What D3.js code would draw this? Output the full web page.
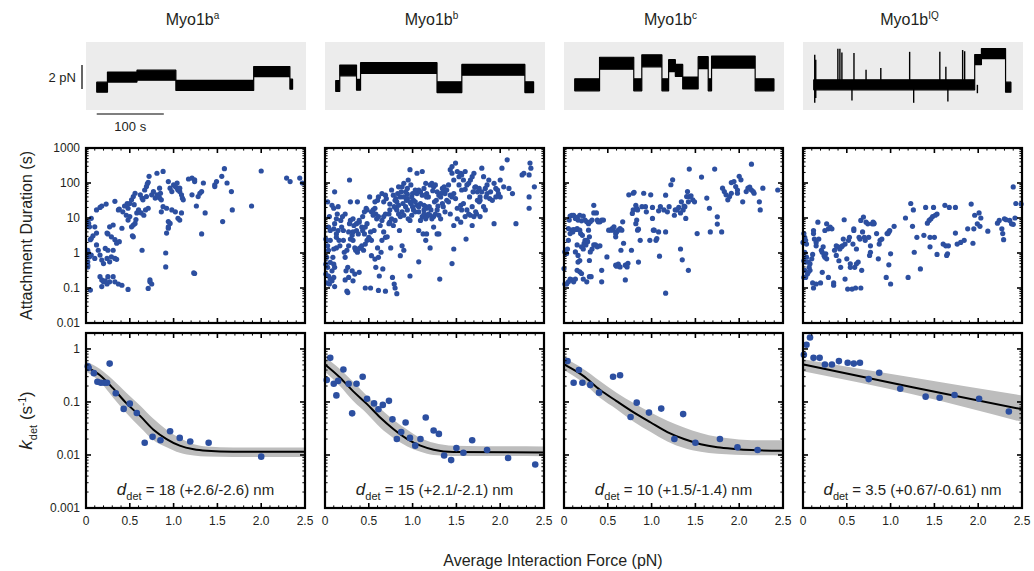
<!DOCTYPE html>
<html><head><meta charset="utf-8">
<script src="https://cdn.jsdelivr.net/npm/d3@7"></script>
<style>body{margin:0;background:#fff}svg{display:block;font-family:"Liberation Sans",Arial,Helvetica,sans-serif}</style>
</head><body><svg id="c" width="1034" height="571"></svg>
<script>
// ---------------- DATA ----------------
const constructs = ["a", "b", "c", "IQ"];
const xTickValues = [0, 0.5, 1, 1.5, 2, 2.5];
const durTicks = [0.01, 0.1, 1, 10, 100, 1000];
const durTickLabels = ["0.01", "0.1", "1", "10", "100", "1000"];
const kTicks = [0.001, 0.01, 0.1, 1];
const kTickLabels = ["0.001", "0.01", "0.1", "1"];
const ddetLabels = ["18 (+2.6/-2.6) nm", "15 (+2.1/-2.1) nm", "10 (+1.5/-1.4) nm", "3.5 (+0.67/-0.61) nm"];

// example traces: [start s, end s, force pN]
const traceA = [[0,16,-0.1],[16,60,0.75],[60,118,0.9],[118,234,0.05],[234,288,1.2],[288,292,0.15]];
const traceB = [[0,6,0],[6,31,1.3],[31,37,0.1],[37,151,1.5],[151,188,-0.1],[188,282,1.35],[282,295,-0.1]];
const traceC = [[0,37,0.1],[37,88,1.9],[88,100,0.1],[100,130,2.1],[130,140,0.1],[140,150,1.7],[150,161,1.3],[161,184,0.25],[184,199,1.95],[199,204,0.1],[204,269,2.0],[269,297,0.1]];
const traceIQ = [[0,240,0.1],[240,250,2.2],[250,286,2.7],[286,294,-0.1]];
// spikes in IQ trace: [time s, max pN, min pN]
const spikesIQ = [[1.5,2.6,-1.4],[3,2.2,-1.0],[36,3.1,0],[39,3.1,0],[42,2.8,0],[57,0.1,-1.2],[60,2.75,0],[78,1.35,0],[100,1.5,0],[143,2.85,0],[149,0.1,-1.4],[188,2.85,0],[197,1.6,0],[200,0.1,-1.3],[222,3.0,0],[225,2.9,0],[244,0.1,-0.6]];
const traceNoise = [0.42, 0.45, 0.5, 0.42];

// attachment durations: [force pN, duration s]
const durA = [
[0.02,7.9],[0.03,7.0],[0.04,5.6],[0.06,9.8],[0.12,17],[0.16,20],[0.18,22],[0.23,25],
[0.05,2.4],[0.06,2.6],[0.08,3.1],[0.10,5.6],[0.12,3.7],[0.02,1.2],[0.03,0.98],[0.04,0.78],
[0.02,0.56],[0.02,0.45],[0.02,0.40],[0.06,0.87],[0.10,0.70],[0.12,1.7],[0.14,1.2],[0.16,0.87],
[0.18,0.63],[0.20,0.50],[0.22,1.35],[0.24,0.70],[0.25,1.2],[0.27,0.56],[0.29,0.78],[0.31,1.2],
[0.33,0.70],[0.35,0.66],[0.16,0.21],[0.18,0.17],[0.20,0.15],[0.22,0.16],[0.24,0.13],[0.25,0.21],
[0.27,0.15],[0.31,0.21],[0.33,0.15],[0.37,0.13],[0.41,0.12],[0.48,0.091],[0.05,0.087],[0.18,0.11],
[0.24,3.7],[0.25,3.5],[0.29,2.9],[0.33,2.4],[0.35,1.9],[0.38,2.1],[0.27,5.6],[0.31,6.3],
[0.33,30],[0.37,17],[0.38,18],[0.41,5.1],[0.46,12],[0.48,19],[0.50,26],[0.52,33],[0.54,41],[0.56,51],
[0.48,8.7],[0.50,11],[0.52,5.6],[0.54,6.3],[0.56,7.0],[0.58,14],[0.60,17],[0.54,2.9],[0.53,3.1],
[0.62,46],[0.64,37],[0.65,33],[0.67,63],[0.69,79],[0.70,95],[0.71,105],[0.72,155],[0.69,41],
[0.64,1.2],[0.68,17],[0.71,19],[0.75,46],[0.77,57],[0.79,37],[0.81,46],[0.83,41],[0.84,37],[0.86,33],
[0.84,71],[0.85,51],[0.81,190],[0.88,214],[0.71,0.097],[0.73,0.15],[0.75,0.13],[0.73,0.17],
[0.86,15],[0.88,21],[0.92,3.7],[0.94,5.1],[0.91,1.0],[0.91,0.40],[0.94,110],[0.96,71],[0.98,57],
[1.0,89],[1.02,79],[1.04,71],[1.05,63],[1.07,57],[1.09,46],[1.10,37],[1.11,33],[1.04,100],[1.07,71],
[0.92,19],[0.98,17],[1.02,15],[0.94,7.9],[0.96,7.0],[0.94,5.6],[1.05,9.8],[1.07,8.7],[1.09,14],
[1.17,130],[1.21,138],[1.24,123],[1.24,110],[1.21,46],[1.23,0.27],[1.24,0.26],[1.26,22],[1.32,3.5],
[1.34,100],[1.32,57],[1.30,51],[1.28,41],[1.36,14],[1.47,89],[1.49,110],[1.55,155],[1.58,257],
[1.61,100],[1.66,57],[1.67,17],[1.47,79],[1.56,7.9],[1.89,22],[2.0,220],[2.29,138],[2.33,110],
[2.44,138],[2.47,100],[0.42,15],[0.44,22],[0.47,26],[0.55,24],[0.57,9],[0.63,14],[0.66,12]
];
const durB = [
[0.02,2.3],[0.01,2.5],[0.03,1.6],[0.04,1.2],[0.02,0.75],[0.01,0.48],[0.03,0.39],[0.01,0.25],[0.04,0.22],[0.02,0.14],
[0.05,0.13],[0.06,0.18],[0.08,0.16],[0.10,0.20],[0.11,0.11],[0.08,0.31],[0.10,0.48],[0.11,0.39],[0.06,0.54],[0.09,0.75],
[0.10,1.3],[0.13,1.4],[0.06,4.4],[0.04,5.5],[0.10,4.9],[0.13,3.5],[0.15,4.4],[0.11,6.9],[0.03,29],[0.08,23],
[0.10,19],[0.11,56],[0.15,21],[0.14,13],[0.05,11],[0.13,9.5],[0.16,2.3],[0.17,1.6],[0.06,2.3],[0.13,2.8],
[0.23,13],[0.21,2.3],[0.22,1.05],[0.23,0.75],[0.25,1.2],[0.27,1.6],[0.29,2.5],[0.31,3.2],[0.32,2.3],[0.34,1.4],
[0.35,1.2],[0.37,1.05],[0.38,1.3],[0.40,1.4],[0.28,6.9],[0.29,8.5],[0.32,9.5],[0.33,6.1],[0.36,6.9],[0.39,7.6],
[0.29,29],[0.28,122],[0.37,29],[0.39,8.5],[0.24,0.31],[0.26,0.39],[0.27,0.20],[0.23,0.17],[0.25,0.081],[0.26,0.074],
[0.21,4.4],[0.19,5.5],[0.31,0.31],[0.32,0.16],[0.34,0.25],[0.39,0.28],[0.38,3.5],[0.36,4.4],[0.32,4.0],[0.27,4.0],
[0.18,8.5],[0.20,11],
[0.42,5.5],[0.43,4.4],[0.45,3.5],[0.46,5.5],[0.48,6.9],[0.50,2.8],[0.52,4.0],[0.47,19],[0.48,17],[0.51,40],
[0.53,15],[0.55,17],[0.57,19],[0.58,13],[0.60,32],[0.61,40],[0.57,29],[0.55,12],[0.59,9.5],[0.61,11],
[0.63,6.1],[0.65,8.5],[0.67,11],[0.69,13],[0.65,50],[0.67,29],[0.69,45],[0.70,36],[0.42,1.6],[0.44,1.2],
[0.46,1.8],[0.48,2.3],[0.53,0.84],[0.57,0.67],[0.61,0.75],[0.52,0.10],[0.46,0.10],[0.58,0.39],[0.62,0.22],[0.66,0.35],
[0.61,0.085],[0.69,0.081],[0.65,2.3],[0.67,4.0],[0.69,2.8],[0.71,2.9],[0.56,4.4],[0.53,2.3],[0.60,1.4],[0.64,1.05],
[0.51,2.5],[0.43,11],[0.45,15],
[0.73,13],[0.74,17],[0.76,63],[0.78,45],[0.80,32],[0.82,29],[0.84,23],[0.86,40],[0.88,78],[0.90,98],
[0.92,56],[0.94,70],[0.95,122],[0.97,240],[0.98,88],[0.99,40],[1.0,50],[1.01,32],[0.74,7.6],[0.76,9.5],
[0.78,6.1],[0.80,8.5],[0.82,17],[0.84,13],[0.86,11],[0.88,15],[0.90,12],[0.92,21],[0.94,17],[0.95,9.5],
[0.97,8.5],[0.99,12],[1.01,17],[0.73,6.9],[0.75,1.4],[0.77,0.20],[0.79,0.13],[0.80,0.10],[0.82,0.069],[0.86,0.84],
[0.88,1.6],[0.90,1.2],[0.85,4.4],[0.81,19],[0.83,50],[0.93,32],[0.94,36],[0.97,29],[0.97,0.22],[0.98,26],
[0.89,26],[0.90,40],[0.87,56],[0.79,21],[0.74,25],[0.81,36],[0.84,78],[0.94,48],[1.0,21],
[1.03,29],[1.05,23],[1.07,21],[1.09,26],[1.11,45],[1.13,23],[1.15,21],[1.16,19],[1.05,190],[1.07,63],
[1.09,56],[1.11,213],[1.13,70],[1.15,98],[1.16,50],[1.18,40],[1.20,88],[1.22,98],[1.24,78],[1.26,88],
[1.28,56],[1.30,45],[1.32,50],[1.34,70],[1.35,56],[1.37,50],[1.05,50],[1.03,63],[1.07,15],[1.11,11],
[1.13,13],[1.15,9.5],[1.16,11],[1.18,13],[1.20,12],[1.22,9.5],[1.24,11],[1.26,13],[1.28,17],[1.30,12],
[1.32,9.5],[1.34,26],[1.35,21],[1.37,15],[1.07,4.4],[1.12,3.5],[1.15,2.3],[1.16,3.5],[1.20,1.4],[1.24,5.5],
[1.28,3.5],[1.30,3.5],[1.07,0.56],[1.31,0.18],[1.03,15],[1.09,8.5],[1.13,17],[1.25,29],[1.19,21],[1.23,60],
[1.27,32],[1.32,40],[1.36,78],[1.16,40],[1.21,17],[1.29,22],
[1.39,32],[1.41,88],[1.43,240],[1.45,190],[1.47,122],[1.49,370],[1.51,213],[1.53,152],[1.55,190],[1.56,170],
[1.58,122],[1.60,213],[1.62,88],[1.64,98],[1.66,122],[1.68,152],[1.70,190],[1.72,78],[1.74,56],[1.76,70],
[1.77,40],[1.41,29],[1.43,45],[1.45,40],[1.47,50],[1.49,36],[1.51,19],[1.55,23],[1.56,17],[1.58,26],
[1.60,11],[1.62,17],[1.64,13],[1.66,12],[1.68,21],[1.70,11],[1.72,15],[1.74,32],[1.76,29],[1.43,13],
[1.47,6.1],[1.47,1.3],[1.45,0.50],[1.51,9.5],[1.55,7.6],[1.61,2.5],[1.68,6.1],[1.73,13],[1.77,32],[1.79,56],
[1.39,63],[1.45,295],[1.53,88],[1.56,63],[1.60,66],[1.65,40],[1.69,56],[1.71,75],
[1.79,265],[1.81,152],[1.83,70],[1.85,88],[1.87,122],[1.89,56],[1.91,32],[1.93,98],[1.95,70],[1.97,63],
[1.98,50],[2.0,122],[2.02,265],[2.04,78],[2.08,460],[2.10,70],[2.14,50],[2.18,6.9],[2.25,170],[2.27,190],
[2.33,170],[2.34,370],[2.35,265],[2.39,78],[2.33,40],[2.33,19],[1.93,6.9],[1.95,40],[1.83,17],[1.84,40],
[2.0,40],[1.88,36],[1.85,50],[1.77,11],[1.81,21]
];
const durC = [
[0.01,1.07],[0.0,0.36],[0.02,1.2],[0.03,0.96],[0.04,1.3],[0.01,0.13],[0.03,0.13],[0.05,0.15],[0.07,0.18],[0.09,0.17],
[0.11,0.15],[0.13,0.18],[0.05,5.0],[0.06,8.7],[0.07,11.4],[0.09,12],[0.11,12],[0.13,9.7],[0.15,10.4],[0.16,8.7],
[0.18,12],[0.20,8.3],[0.22,11.4],[0.24,8.7],[0.26,7.8],[0.28,6.9],[0.30,7.8],[0.32,8.7],[0.34,23],[0.34,14],
[0.37,14],[0.38,8.7],[0.39,7.8],[0.41,7.8],[0.43,8.7],[0.45,8.7],[0.05,2.3],[0.07,3.6],[0.09,4.5],[0.10,4.0],
[0.11,4.7],[0.14,4.7],[0.15,5.0],[0.18,4.5],[0.19,3.6],[0.21,3.2],[0.24,2.3],[0.26,2.3],[0.28,4.5],[0.29,2.9],
[0.13,1.07],[0.15,1.7],[0.16,0.85],[0.18,0.61],[0.20,1.5],[0.22,1.3],[0.23,1.9],[0.25,1.7],[0.27,2.1],[0.29,0.61],
[0.30,1.07],[0.32,1.3],[0.34,1.7],[0.36,1.7],[0.38,1.5],[0.16,0.55],[0.15,0.32],[0.18,0.29],[0.20,0.26],[0.26,0.15],
[0.22,0.18],[0.29,0.21],[0.31,0.21],[0.41,1.6],[0.43,0.32],[0.43,0.15],[0.49,0.77],[0.51,4.5],[0.53,4.5],[0.55,5.0],
[0.56,4.5],[0.57,5.6],[0.59,3.6],[0.59,2.9],[0.60,4.0],[0.62,4.5],[0.64,5.0],[0.66,4.5],[0.67,7.8],[0.68,1.9],
[0.70,0.45],[0.71,0.45],[0.73,0.51],[0.72,0.40],[0.70,0.17],[0.59,0.45],[0.60,0.42],[0.62,0.48],[0.64,0.40],[0.65,1.2],
[0.78,13.5],[0.77,1.2],[0.79,17],[0.82,6.9],[0.83,8.7],[0.84,4.5],[0.85,4.8],[0.87,2.3],[0.74,46],[0.79,51],
[0.80,54],[0.82,23],[0.83,19],[0.83,18],[0.84,17],[0.91,51],[0.93,21],[0.94,15],[0.85,0.55],[0.89,21],
[0.99,46],[1.01,20],[1.01,9.7],[0.98,2.3],[1.02,4.5],[1.05,2.3],[1.06,2.6],[1.08,4.0],[1.09,0.81],[1.03,4.5],
[1.08,16],[1.10,21],[1.14,17],[1.16,4.0],[1.16,45],[1.18,15],[1.20,21],[1.16,0.071],[1.22,89],[1.24,123],
[1.26,12],[1.27,17],[1.29,17],[1.31,20],[1.33,14],[1.33,1.3],[1.34,29],[1.35,0.64],[1.36,17],[1.37,22],
[1.38,21],[1.40,41],[1.39,9.7],[1.41,57],[1.42,29],[1.43,41],[1.45,43],[1.47,33],[1.49,29],[1.52,3.6],
[1.57,148],[1.43,250],[1.42,0.32],[1.63,37],[1.66,19],[1.67,4.0],[1.72,250],[1.75,10.8],[1.75,6.7],[1.80,4.0],
[1.81,71],[1.83,57],[1.85,46],[1.87,33],[1.89,41],[1.91,51],[1.91,103],[1.94,110],[1.96,79],[1.98,63],
[1.98,51],[2.0,155],[2.02,123],[2.04,29],[2.08,57],[2.10,71],[2.12,76],[2.14,63],[2.16,57],[2.17,51],
[2.14,345],[2.23,29],[2.24,17],[2.27,71],[2.44,63]
];
const durIQ = [
[0.01,3.6],[0.02,2.8],[0.0,2.0],[0.03,2.3],[0.04,1.8],[0.02,1.05],[0.01,0.60],[0.03,0.55],[0.04,0.76],[0.06,0.55],
[0.02,0.32],[0.01,0.20],[0.03,0.20],[0.05,0.25],[0.06,0.28],[0.07,0.39],[0.08,0.32],[0.08,0.49],[0.10,0.68],[0.11,0.91],
[0.12,4.4],[0.12,3.6],[0.13,2.5],[0.15,1.6],[0.15,2.0],[0.11,0.14],[0.12,0.10],[0.15,0.13],[0.17,7.6],[0.18,2.5],
[0.20,0.14],[0.21,1.2],[0.22,1.05],[0.23,1.5],[0.24,0.85],[0.25,0.76],[0.26,0.95],[0.27,0.68],[0.22,0.28],[0.25,4.4],
[0.27,6.8],[0.29,0.20],[0.29,4.9],[0.31,5.5],[0.33,4.9],[0.35,0.14],[0.35,0.12],[0.36,1.2],[0.38,0.85],[0.38,1.6],
[0.40,1.5],[0.41,0.60],[0.42,1.3],[0.43,0.39],[0.44,1.5],[0.45,1.6],[0.46,2.5],[0.47,8.9],[0.48,1.8],[0.48,0.18],
[0.50,0.68],[0.51,0.093],[0.52,2.3],[0.53,2.8],[0.54,0.39],[0.54,0.49],[0.56,0.093],[0.57,1.8],[0.58,4.9],[0.58,4.4],
[0.59,0.39],[0.60,0.10],[0.61,1.3],[0.61,0.49],[0.63,0.55],[0.64,2.8],[0.65,2.5],[0.66,0.10],[0.66,8.5],[0.67,0.32],
[0.68,4.0],[0.69,10.6],[0.70,2.8],[0.71,2.3],[0.72,7.6],[0.74,6.8],[0.75,2.8],[0.76,0.85],[0.77,1.05],[0.77,1.6],
[0.79,6.8],[0.80,7.6],[0.81,7.1],[0.81,6.8],[0.84,3.6],[0.86,0.68],[0.87,1.8],[0.88,2.3],[0.90,2.5],[0.95,0.20],
[0.96,3.6],[0.97,3.6],[0.98,4.0],[0.99,4.4],[0.98,0.46],[1.0,0.13],[1.0,0.95],[1.04,5.8],[1.17,10],[1.20,0.20],
[1.23,26],[1.25,5.8],[1.26,17],[1.27,1.05],[1.30,2.8],[1.34,0.35],[1.38,3.2],[1.40,20],[1.42,7.1],[1.45,1.5],
[1.45,2.8],[1.44,8.5],[1.46,9.5],[1.48,11],[1.49,20],[1.50,2.8],[1.51,12],[1.53,13],[1.53,0.91],[1.60,1.8],
[1.62,23],[1.63,1.6],[1.64,0.85],[1.65,0.95],[1.66,1.6],[1.67,20],[1.74,20],[1.74,3.7],[1.76,1.8],[1.80,2.0],
[1.84,2.3],[1.88,4.9],[1.92,25],[1.94,1.9],[1.95,4.9],[1.96,12],[1.99,6.8],[2.01,14],[2.03,10],[2.02,5.8],
[2.11,4.2],[2.22,7.1],[2.24,8.5],[2.27,4.9],[2.28,3.6],[2.29,2.4],[2.30,9.5],[2.32,8.9],[2.36,8.5],[2.38,6.8],
[2.40,6.6],[2.40,77],[2.42,10],[2.43,26],[2.49,25]
];

// detachment rates: [force pN, k s^-1]
const kA = [[0.02,0.47],[0.03,0.44],[0.09,0.35],[0.13,0.24],[0.17,0.23],[0.21,0.23],[0.24,0.23],[0.27,0.53],[0.34,0.146],[0.43,0.074],[0.50,0.093],[0.58,0.062],[0.67,0.017],[0.76,0.022],[0.85,0.019],[0.96,0.028],[1.07,0.021],[1.19,0.018],[1.40,0.017],[2.0,0.0093]];
const kB = [[0.02,0.26],[0.06,0.68],[0.10,0.22],[0.13,0.133],[0.15,0.25],[0.21,0.41],[0.27,0.22],[0.31,0.061],[0.36,0.22],[0.43,0.30],[0.48,0.115],[0.56,0.094],[0.61,0.073],[0.66,0.088],[0.73,0.105],[0.77,0.047],[0.82,0.020],[0.87,0.027],[0.92,0.041],[0.97,0.021],[1.03,0.015],[1.09,0.020],[1.15,0.051],[1.24,0.029],[1.30,0.025],[1.36,0.0098],[1.44,0.0080],[1.50,0.0135],[1.58,0.011],[1.68,0.019],[1.85,0.0124],[2.09,0.0088],[2.40,0.0066]];
const kC = [[0.04,0.59],[0.11,0.23],[0.17,0.40],[0.21,0.23],[0.30,0.21],[0.40,0.15],[0.56,0.30],[0.64,0.32],[0.76,0.052],[0.83,0.097],[0.97,0.063],[1.11,0.075],[1.26,0.020],[1.36,0.059],[1.50,0.017],[1.78,0.020],[1.98,0.014],[2.21,0.0124]];
const kIQ = [[0.01,0.78],[0.04,1.2],[0.08,1.65],[0.12,0.68],[0.19,0.68],[0.25,0.51],[0.33,0.51],[0.41,0.59],[0.51,0.55],[0.58,0.53],[0.65,0.55],[0.75,0.27],[0.87,0.355],[1.11,0.178],[1.40,0.126],[1.56,0.12],[1.73,0.135],[2.01,0.115],[2.35,0.066]];

// fitted curves: [force, k]
const fitA = [[0,0.46],[0.16,0.32],[0.31,0.18],[0.46,0.095],[0.62,0.054],[0.77,0.030],[0.92,0.020],[1.07,0.015],[1.23,0.0128],[1.38,0.012],[1.68,0.0115],[2.5,0.0115]];
const fitB = [[0,0.51],[0.17,0.29],[0.32,0.16],[0.48,0.091],[0.63,0.051],[0.78,0.031],[0.94,0.020],[1.09,0.015],[1.24,0.0126],[1.47,0.0114],[2.5,0.0112]];
const fitC = [[0,0.51],[0.22,0.31],[0.41,0.17],[0.60,0.104],[0.80,0.063],[0.99,0.041],[1.18,0.027],[1.37,0.020],[1.56,0.016],[1.75,0.014],[1.95,0.013],[2.14,0.0124],[2.5,0.012]];
const fitIQ = [[0,0.51],[1.25,0.19],[2.5,0.073]];
// confidence bands: [force, lower, upper]
const bandA = [[0,0.37,0.58],[0.16,0.24,0.42],[0.31,0.12,0.26],[0.46,0.062,0.15],[0.62,0.033,0.085],[0.77,0.019,0.048],[0.92,0.014,0.030],[1.07,0.011,0.021],[1.23,0.0098,0.016],[1.38,0.0094,0.0145],[1.68,0.0092,0.0138],[2.5,0.0092,0.0138]];
const bandB = [[0,0.37,0.70],[0.17,0.20,0.42],[0.32,0.105,0.24],[0.48,0.06,0.13],[0.63,0.033,0.075],[0.78,0.021,0.046],[0.94,0.0145,0.030],[1.09,0.0115,0.021],[1.24,0.010,0.017],[1.47,0.0096,0.015],[2.5,0.0095,0.0145]];
const bandC = [[0,0.40,0.68],[0.22,0.23,0.42],[0.41,0.12,0.25],[0.60,0.073,0.15],[0.80,0.042,0.095],[0.99,0.027,0.063],[1.18,0.018,0.044],[1.37,0.0135,0.033],[1.56,0.0115,0.026],[1.75,0.0105,0.022],[1.95,0.0101,0.020],[2.14,0.0099,0.019],[2.5,0.0098,0.019]];
const bandIQ = [[0,0.38,0.64],[1.25,0.14,0.29],[2.5,0.042,0.133]];

// ---------------- LAYOUT ----------------
const svg = d3.select("#c");
const BLUE = "#2c4fa0", TXT = "#231f20", BAND = "#bdbdbd", BOXBG = "#ececec";
const panelLefts = [86, 325, 564, 803];
const PW = 219;
const MID = {top: 148, h: 175}, BOT = {top: 333, h: 175};
const TR = {top: 42, h: 68, w: 220};
const traces = [traceA, traceB, traceC, traceIQ];
const durs = [durA, durB, durC, durIQ];
const ks = [kA, kB, kC, kIQ];
const fits = [fitA, fitB, fitC, fitIQ];
const bands = [bandA, bandB, bandC, bandIQ];

const yDur = d3.scaleLog().domain([0.01, 1000]).range([MID.top + MID.h, MID.top]);
const yK = d3.scaleLog().domain([0.001, 2]).range([BOT.top + BOT.h, BOT.top]);

function frame(x, y, top, bottom) {
  const g = svg.append("g");
  const L = x.range()[0], R = x.range()[1];
  d3.range(0, 26).forEach(i => {
    const v = i / 10, major = i % 5 === 0, len = major ? 5 : 2.6, sw = major ? 1.6 : 1;
    const px = x(v);
    g.append("line").attr("x1", px).attr("x2", px).attr("y1", bottom).attr("y2", bottom - len).attr("stroke", "#000").attr("stroke-width", sw);
    g.append("line").attr("x1", px).attr("x2", px).attr("y1", top).attr("y2", top + len).attr("stroke", "#000").attr("stroke-width", sw);
  });
  const [d0, d1] = y.domain();
  for (let e = Math.floor(Math.log10(d0)); e <= Math.ceil(Math.log10(d1)); e++) {
    for (let m = 1; m <= 9; m++) {
      const v = m * Math.pow(10, e);
      if (v < d0 * 0.999 || v > d1 * 1.001) continue;
      const major = m === 1, len = major ? 5 : 2.6, sw = major ? 1.6 : 1;
      const py = y(v);
      g.append("line").attr("x1", L).attr("x2", L + len).attr("y1", py).attr("y2", py).attr("stroke", "#000").attr("stroke-width", sw);
      g.append("line").attr("x1", R).attr("x2", R - len).attr("y1", py).attr("y2", py).attr("stroke", "#000").attr("stroke-width", sw);
    }
  }
  g.append("rect").attr("x", L).attr("y", top).attr("width", R - L).attr("height", bottom - top)
    .attr("fill", "none").attr("stroke", "#000").attr("stroke-width", 2.2);
}

panelLefts.forEach((L, i) => {
  const x = d3.scaleLinear().domain([0, 2.5]).range([L, L + PW]);
  const cx = L + PW / 2;

  // title
  const t = svg.append("text").attr("x", cx - 3).attr("y", 25).attr("text-anchor", "middle")
    .attr("font-size", 16).attr("fill", TXT);
  t.append("tspan").text("Myo1b");
  t.append("tspan").attr("dy", -6).attr("font-size", 10).text(constructs[i]);

  // example trace
  const tx = d3.scaleLinear().domain([-16, 312]).range([L, L + TR.w]);
  const ty = d3.scaleLinear().domain([-2, 3.67]).range([TR.top + TR.h, TR.top]);
  svg.append("rect").attr("x", L).attr("y", TR.top).attr("width", TR.w).attr("height", TR.h).attr("fill", BOXBG);
  const pts = [];
  traces[i].forEach(s => { pts.push([s[0], s[2]]); pts.push([s[1], s[2]]); });
  const nz = traceNoise[i];
  svg.append("path").datum(pts)
    .attr("d", d3.area().x(d => tx(d[0])).y0(d => ty(d[1] - nz)).y1(d => ty(d[1] + nz)))
    .attr("fill", "#000").attr("stroke", "#000").attr("stroke-width", 1.2).attr("stroke-linejoin", "bevel");
  if (i === 3) {
    svg.append("g").selectAll("line").data(spikesIQ).join("line")
      .attr("x1", d => tx(d[0])).attr("x2", d => tx(d[0]))
      .attr("y1", d => ty(d[2])).attr("y2", d => ty(d[1]))
      .attr("stroke", "#000").attr("stroke-width", 1.4);
  }
  if (i === 0) {
    // scale bars
    svg.append("line").attr("x1", L - 4).attr("x2", L - 4).attr("y1", ty(-0.25)).attr("y2", ty(1.75))
      .attr("stroke", "#333").attr("stroke-width", 1.5);
    svg.append("text").attr("x", L - 10).attr("y", ty(0.75)).attr("dy", "0.35em").attr("text-anchor", "end")
      .attr("font-size", 13).attr("fill", TXT).text("2 pN");
    svg.append("line").attr("x1", tx(0)).attr("x2", tx(100)).attr("y1", 114).attr("y2", 114)
      .attr("stroke", "#555").attr("stroke-width", 1.5);
    svg.append("text").attr("x", tx(50)).attr("y", 131).attr("text-anchor", "middle")
      .attr("font-size", 13).attr("fill", TXT).text("100 s");
  }

  // middle: attachment durations
  svg.append("g").selectAll("circle").data(durs[i]).join("circle")
    .attr("cx", d => x(d[0])).attr("cy", d => yDur(d[1])).attr("r", 2.6).attr("fill", BLUE);
  frame(x, yDur, MID.top, MID.top + MID.h);

  // bottom: kdet
  const clipId = "clip" + i;
  svg.append("clipPath").attr("id", clipId).append("rect")
    .attr("x", L).attr("y", BOT.top).attr("width", PW).attr("height", BOT.h);
  const gb = svg.append("g").attr("clip-path", `url(#${clipId})`);
  gb.append("path").datum(bands[i])
    .attr("d", d3.area().curve(d3.curveMonotoneX).x(d => x(d[0])).y0(d => yK(d[1])).y1(d => yK(d[2])))
    .attr("fill", BAND);
  gb.append("path").datum(fits[i])
    .attr("d", d3.line().curve(d3.curveMonotoneX).x(d => x(d[0])).y(d => yK(d[1])))
    .attr("fill", "none").attr("stroke", "#000").attr("stroke-width", 2);
  svg.append("g").selectAll("circle").data(ks[i]).join("circle")
    .attr("cx", d => x(d[0])).attr("cy", d => yK(d[1])).attr("r", 3.3).attr("fill", BLUE);
  frame(x, yK, BOT.top, BOT.top + BOT.h);

  // d_det annotation
  const a = svg.append("text").attr("x", cx).attr("y", 495).attr("text-anchor", "middle")
    .attr("font-size", 15).attr("fill", TXT);
  a.append("tspan").attr("font-style", "italic").attr("font-size", 17).text("d");
  a.append("tspan").attr("dy", 5).attr("font-size", 11).text("det");
  a.append("tspan").attr("dy", -5).text(" = " + ddetLabels[i]);

  // x tick labels (bottom row)
  svg.append("g").selectAll("text").data(xTickValues).join("text")
    .attr("x", d => x(d)).attr("y", BOT.top + BOT.h + 17).attr("text-anchor", "middle")
    .attr("font-size", 12).attr("fill", TXT)
    .text(d => d === 0 ? "0" : d.toFixed(1));

  if (i === 0) {
    svg.append("g").selectAll("text").data(durTicks).join("text")
      .attr("x", L - 6).attr("y", d => yDur(d)).attr("dy", "0.35em").attr("text-anchor", "end")
      .attr("font-size", 12).attr("fill", TXT).text((d, j) => durTickLabels[j]);
    svg.append("g").selectAll("text").data(kTicks).join("text")
      .attr("x", L - 6).attr("y", d => yK(d)).attr("dy", "0.35em").attr("text-anchor", "end")
      .attr("font-size", 12).attr("fill", TXT).text((d, j) => kTickLabels[j]);
  }
});

// axis titles
svg.append("text").attr("transform", `translate(32,${MID.top + MID.h / 2}) rotate(-90)`)
  .attr("text-anchor", "middle").attr("font-size", 16).attr("fill", TXT).text("Attachment Duration (s)");
const kl = svg.append("text").attr("transform", `translate(32,${BOT.top + BOT.h / 2}) rotate(-90)`)
  .attr("text-anchor", "middle").attr("font-size", 17).attr("fill", TXT);
kl.append("tspan").attr("font-style", "italic").attr("font-size", 19).text("k");
kl.append("tspan").attr("dy", 5).attr("font-size", 11).text("det");
kl.append("tspan").attr("dy", -5).text(" (s");
kl.append("tspan").attr("dy", -6).attr("font-size", 10).text("-1");
kl.append("tspan").attr("dy", 6).text(")");

svg.append("text").attr("x", 553).attr("y", 566).attr("text-anchor", "middle")
  .attr("font-size", 16).attr("fill", TXT).text("Average Interaction Force (pN)");
</script></body></html>
